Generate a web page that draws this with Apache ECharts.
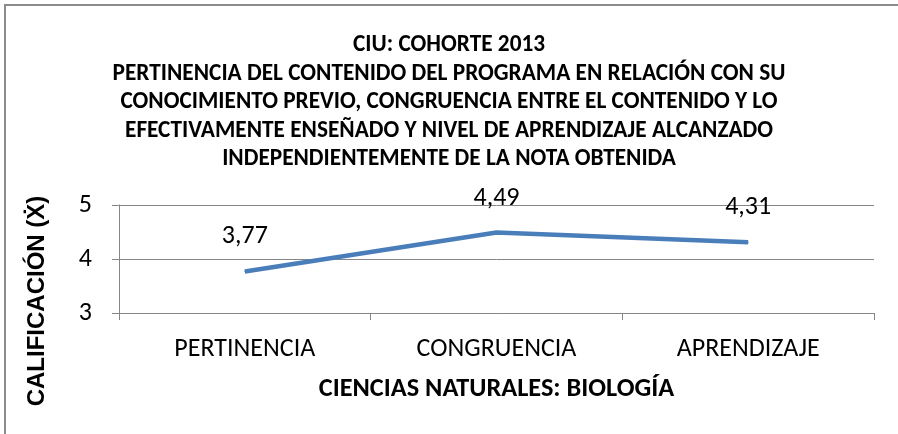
<!DOCTYPE html>
<html>
<head>
<meta charset="utf-8">
<script src="https://cdn.jsdelivr.net/npm/echarts@6/dist/echarts.min.js"></script>
<style>
  html, body { margin: 0; padding: 0; background: #fff; }
  #chart { width: 898px; height: 434px; }
</style>
</head>
<body>
<div id="chart"></div>
<script>
var categories = ['PERTINENCIA', 'CONGRUENCIA', 'APRENDIZAJE'];
var values = [3.77, 4.49, 4.31];
var valueLabels = ['3,77', '4,49', '4,31'];
var yTicks = [3, 4, 5];

var titleLines = [
  'CIU: COHORTE 2013',
  'PERTINENCIA DEL CONTENIDO DEL PROGRAMA EN RELACIÓN CON SU',
  'CONOCIMIENTO PREVIO, CONGRUENCIA ENTRE EL CONTENIDO Y LO',
  'EFECTIVAMENTE ENSEÑADO Y NIVEL DE APRENDIZAJE ALCANZADO',
  'INDEPENDIENTEMENTE DE LA NOTA OBTENIDA'
];
var xTitle = 'CIENCIAS NATURALES: BIOLOGÍA';
var yTitle = 'CALIFICACIÓN (Ẋ)';

var font = 'Carlito, Lato, "Open Sans", sans-serif';
var gray = '#868686';

var myChart = echarts.init(document.getElementById('chart'));
myChart.setOption({
  animation: false,
  title: {
    text: titleLines.join('\n'),
    left: 'center',
    top: 26,
    textStyle: {
      fontFamily: font,
      fontSize: 23.3,
      fontWeight: 'bold',
      color: '#000',
      lineHeight: 28.5
    }
  },
  graphic: [
    {
      type: 'rect',
      shape: { x: 5, y: 5, width: 1000, height: 1000 },
      style: { fill: 'none', stroke: '#8c8c8c', lineWidth: 2 },
      silent: true
    },
    {
      type: 'text',
      x: 37,
      y: 301,
      rotation: Math.PI / 2,
      style: {
        text: yTitle,
        fontFamily: '"Liberation Sans", Arial, sans-serif',
        fontSize: 24,
        fontWeight: 'bold',
        fill: '#000',
        align: 'center',
        verticalAlign: 'middle'
      }
    }
  ],
  grid: { left: 119, right: 24, top: 205, height: 108 },
  xAxis: {
    type: 'category',
    data: categories,
    boundaryGap: true,
    name: xTitle,
    nameLocation: 'middle',
    nameGap: 63,
    nameTextStyle: { fontFamily: font, fontSize: 26.3, fontWeight: 'bold', color: '#000' },
    axisLine: { lineStyle: { color: gray, width: 1 } },
    axisTick: { show: true, length: 7, lineStyle: { color: gray } },
    axisLabel: { fontFamily: font, fontSize: 26, color: '#000', margin: 23 },
    splitLine: { show: false }
  },
  yAxis: {
    type: 'value',
    min: yTicks[0],
    max: yTicks[yTicks.length - 1],
    interval: 1,
    axisLine: { show: true, lineStyle: { color: gray, width: 1 } },
    axisTick: { show: true, length: 7, lineStyle: { color: gray } },
    axisLabel: { fontFamily: font, fontSize: 26, color: '#000', margin: 27 },
    splitLine: { show: true, lineStyle: { color: gray, width: 1 } }
  },
  series: [{
    type: 'line',
    data: values,
    symbol: 'circle',
    symbolSize: 1,
    showSymbol: true,
    itemStyle: { color: '#4a7ebb' },
    lineStyle: { color: '#4a7ebb', width: 4.5 },
    label: {
      show: true,
      position: 'top',
      distance: 21,
      fontFamily: font,
      fontSize: 26,
      color: '#000',
      formatter: function (p) { return valueLabels[p.dataIndex]; }
    }
  }]
});
</script>
</body>
</html>
